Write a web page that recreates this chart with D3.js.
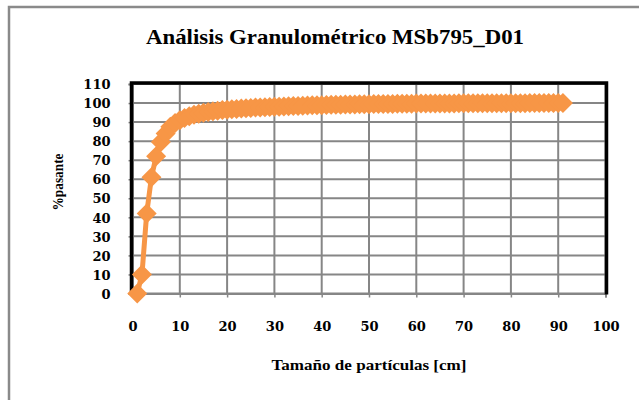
<!DOCTYPE html>
<html>
<head>
<meta charset="utf-8">
<script src="https://cdn.jsdelivr.net/npm/d3@7"></script>
<style>
  html, body { margin: 0; padding: 0; background: #fff; }
  svg { display: block; }
  text { font-family: "Liberation Serif", "DejaVu Serif", serif; font-weight: bold; fill: #000; }
</style>
</head>
<body>
<script>
// ---- data ----
const title = "Análisis Granulométrico MSb795_D01";
const xTitle = "Tamaño de partículas [cm]";
const yTitle = "%pasante";
const xTicks = [0, 10, 20, 30, 40, 50, 60, 70, 80, 90, 100];
const yTicks = [0, 10, 20, 30, 40, 50, 60, 70, 80, 90, 100, 110];
const sizes = [
  1, 2, 3, 4, 5, 6, 7, 8, 9, 10,
  11, 12, 13, 14, 15, 16, 17, 18, 19, 20,
  21, 22, 23, 24, 25, 26, 27, 28, 29, 30,
  31, 32, 33, 34, 35, 36, 37, 38, 39, 40,
  41, 42, 43, 44, 45, 46, 47, 48, 49, 50,
  51, 52, 53, 54, 55, 56, 57, 58, 59, 60,
  61, 62, 63, 64, 65, 66, 67, 68, 69, 70,
  71, 72, 73, 74, 75, 76, 77, 78, 79, 80,
  81, 82, 83, 84, 85, 86, 87, 88, 89, 90, 91
];
const passing = [
  0, 10, 42, 61, 72, 79.5, 84, 87.5, 89.5, 91,
  92.2, 93.1, 93.8, 94.4, 94.9, 95.3, 95.7, 96.0, 96.3, 96.5,
  96.7, 96.9, 97.1, 97.3, 97.4, 97.6, 97.7, 97.8, 97.9, 98.0,
  98.1, 98.2, 98.3, 98.4, 98.5, 98.6, 98.7, 98.8, 98.85, 98.9,
  99.0, 99.05, 99.1, 99.15, 99.2, 99.25, 99.3, 99.35, 99.4, 99.4,
  99.45, 99.5, 99.5, 99.55, 99.55, 99.6, 99.6, 99.65, 99.65, 99.7,
  99.7, 99.7, 99.75, 99.75, 99.75, 99.8, 99.8, 99.8, 99.85, 99.85,
  99.85, 99.85, 99.9, 99.9, 99.9, 99.9, 99.9, 99.95, 99.95, 99.95,
  99.95, 99.95, 99.95, 100, 100, 100, 100, 100, 100, 100, 100
];

// ---- layout ----
const W = 639, H = 400;
const pLeft = 132.5, pRight = 605.5, pTop = 84, pBottom = 293.5;
const orange = "#F79646";

const svg = d3.select("body").append("svg").attr("width", W).attr("height", H);
svg.append("rect").attr("width", W).attr("height", H).attr("fill", "#fff");

// outer chart border (extends past the viewport on right/bottom)
svg.append("rect").attr("x", 9).attr("y", 7).attr("width", 700).attr("height", 500)
  .attr("fill", "none").attr("stroke", "#8a8a8a").attr("stroke-width", 2.5);

const x = d3.scaleLinear().domain([0, 100]).range([pLeft, pRight]);
const y = d3.scaleLinear().domain([0, 110]).range([pBottom, pTop]);

// gridlines
const grid = svg.append("g");
grid.selectAll("line.h").data(yTicks).join("line")
  .attr("x1", pLeft).attr("x2", pRight).attr("y1", d => y(d)).attr("y2", d => y(d))
  .attr("stroke", "#868686").attr("stroke-width", 2);
grid.selectAll("line.v").data(xTicks).join("line")
  .attr("y1", pTop).attr("y2", pBottom).attr("x1", d => x(d)).attr("x2", d => x(d))
  .attr("stroke", "#868686").attr("stroke-width", 2);

// axes
const xAxis = d3.axisBottom(x).tickValues(xTicks).tickSize(4).tickPadding(24);
const yAxis = d3.axisLeft(y).tickValues(yTicks).tickSize(4).tickPadding(18);
const gx = svg.append("g").attr("transform", `translate(0,${pBottom})`).call(xAxis);
const gy = svg.append("g").attr("transform", `translate(${pLeft},0)`).call(yAxis);
[gx, gy].forEach(g => {
  g.select(".domain").attr("stroke", "#868686").attr("stroke-width", 2);
  g.selectAll(".tick line").attr("stroke", "#868686").attr("stroke-width", 1.5);
  g.selectAll(".tick text").style("font-family", "'DejaVu Serif', serif")
    .style("font-weight", "bold").style("font-size", "13px").attr("fill", "#000");
});
gy.selectAll(".tick text").attr("dy", "0.36em").attr("x", -22);

// plot area black frame
svg.append("path")
  .attr("d", `M${pLeft - 1},${pBottom + 1} L${pLeft - 1},${pTop - 1} L${pRight + 1},${pTop - 1} L${pRight + 1},${pBottom + 1}`)
  .attr("fill", "none").attr("stroke", "#000").attr("stroke-width", 3.5);

// series
const pts = sizes.map((s, i) => [s, passing[i]]);
svg.append("path").datum(pts)
  .attr("d", d3.line().x(d => x(d[0])).y(d => y(d[1])))
  .attr("fill", "none").attr("stroke", orange).attr("stroke-width", 5).attr("stroke-linejoin", "round");
const hw = 10, hh = 10;
svg.append("g").selectAll("path").data(pts).join("path")
  .attr("d", d => {
    const cx = x(d[0]), cy = y(d[1]);
    return `M${cx},${cy - hh} L${cx + hw},${cy} L${cx},${cy + hh} L${cx - hw},${cy} Z`;
  })
  .attr("fill", orange);

// titles
svg.append("text").attr("x", 335).attr("y", 44).attr("text-anchor", "middle")
  .style("font-size", "21px").attr("textLength", 378).attr("lengthAdjust", "spacingAndGlyphs")
  .text(title);
svg.append("text").attr("x", 369).attr("y", 370).attr("text-anchor", "middle")
  .style("font-size", "14px").attr("textLength", 195).attr("lengthAdjust", "spacingAndGlyphs")
  .text(xTitle);
svg.append("text").attr("transform", "translate(63,182) rotate(-90)").attr("text-anchor", "middle")
  .style("font-size", "14px").attr("textLength", 57).attr("lengthAdjust", "spacingAndGlyphs")
  .text(yTitle);
</script>
</body>
</html>
